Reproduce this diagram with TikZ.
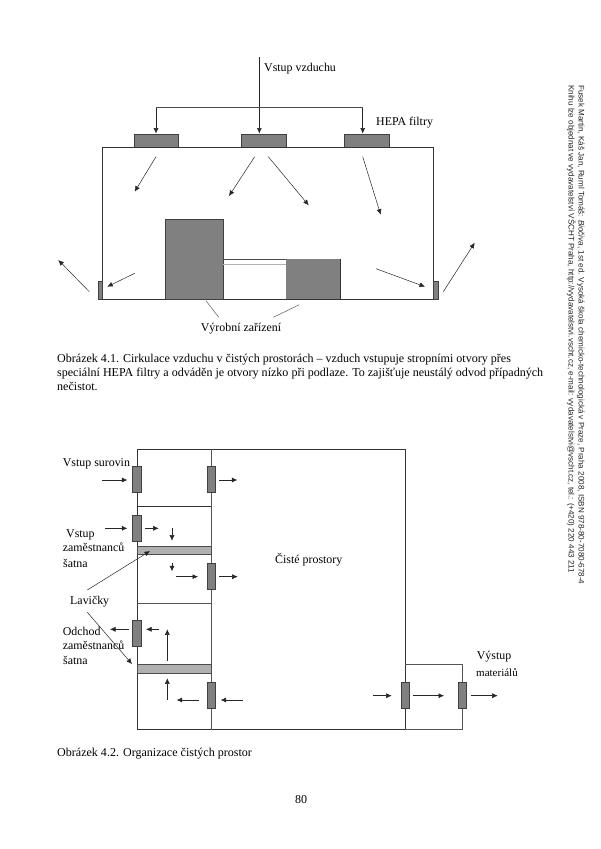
\documentclass[tikz,border=0pt]{standalone}
\usepackage{fontspec}
\setmainfont{Liberation Serif}
\newfontfamily\sidefont{Liberation Sans}
\usetikzlibrary{arrows.meta}
\definecolor{fillgray}{HTML}{808080}
\definecolor{benchgray}{HTML}{B0B0B0}
\definecolor{wallgray}{HTML}{555555}
\tikzset{
  x=1pt,y=-1pt,
  wall/.style={draw=black!80,line width=0.8pt},
  thin wall/.style={draw=wallgray,line width=0.6pt},
  solidbox/.style={draw=black!75,line width=0.6pt,fill=fillgray},
  bench/.style={draw=black!70,line width=0.5pt,fill=benchgray},
  flow/.style={draw=black!85,line width=0.5pt,-{Latex[length=5.5pt,width=5pt]}},
  leader/.style={draw=black!70,line width=0.45pt},
  lab/.style={anchor=base west,inner sep=0pt,font=\fontsize{11.9}{13}\selectfont,text=black},
  captext/.style={anchor=base west,inner sep=0pt,font=\fontsize{12.04}{14}\selectfont,text=black},
  side/.style={anchor=base west,inner sep=0pt,rotate=-90,font=\sidefont\fontsize{8.08}{9}\selectfont,text=black!85},
}
\begin{document}
\begin{tikzpicture}
\useasboundingbox (0,0) rectangle (600,849);
\fill[white] (0,0) rectangle (600,849);
% --- Figure 4.1 ---
\coordinate (inTop) at (259.3,57);
\coordinate (busL) at (156,107.5);
\coordinate (busR) at (362.7,107.5);
\node[solidbox,minimum width=44.4pt,minimum height=13.2pt,inner sep=0pt] (f1) at (156.5,140.9) {};
\node[solidbox,minimum width=45pt,minimum height=13.2pt,inner sep=0pt] (f2) at (263.5,140.9) {};
\node[solidbox,minimum width=44.6pt,minimum height=13.2pt,inner sep=0pt] (f3) at (367,140.9) {};
\draw[wall] (102.3,299.3) -- (102.3,147.5) -- (433.7,147.5) -- (433.7,299.3) -- cycle;
\draw[solidbox] (165.7,219.3) rectangle (223,299.3);
\draw[leader] (223,259.3) -- (286,259.3);
\draw[draw=black!30,line width=0.9pt] (223,264) -- (286,264);
\fill[fillgray] (286,259.3) rectangle (340,299.3);
\draw[black!80,line width=0.6pt] (340,259.3) -- (340,299.3);
\draw[solidbox] (98.3,281.7) rectangle (102.3,299.3);
\draw[solidbox] (433.7,281.7) rectangle (438.7,299.3);
\draw[flow] (inTop) -- (259.3,133.5);
\draw[leader] (busL) -- (busR);
\draw[flow] (busL) -- (156,133.5);
\draw[flow] (busR) -- (362.7,133.5);
\draw[flow] (156,156.7) -- (134.7,191.7);
\draw[flow] (254.7,156.7) -- (229,196);
\draw[flow] (268.3,156.7) -- (308.7,205.3);
\draw[flow] (362.7,156.7) -- (380.7,214.7);
\draw[flow] (134.7,273.3) -- (107.3,286.7);
\draw[flow] (376,268.7) -- (425,286.7);
\draw[flow] (89.3,291.7) -- (58.3,260);
\draw[flow] (443.3,291.7) -- (474.7,242.7);
\draw[leader] (206,300.7) -- (218.7,317.3);
\draw[leader] (273.3,317.3) -- (299.3,304.7);
\node[lab] (t1) at (264,71) {Vstup vzduchu};
\node[lab] (t2) at (376,125) {HEPA filtry};
\node[lab] (t3) at (200.7,331) {Výrobní zařízení};
\node[captext] (c1) at (57,362.5) {Obrázek 4.1. Cirkulace vzduchu v čistých prostorách – vzduch vstupuje stropními otvory přes};
\node[captext] (c2) at (57,376.5) {speciální HEPA filtry a odváděn je otvory nízko při podlaze. To zajišťuje neustálý odvod případných};
\node[captext] (c3) at (57,390) {nečistot.};
% --- Figure 4.2 ---
\draw[wall] (137,449.3) -- (405,449.3) -- (405,729.5) -- (137,729.5) -- cycle;
\draw[thin wall] (211.3,449.3) -- (211.3,729.5);
\draw[wall] (137,506) -- (211.3,506);
\draw[thin wall] (137,603.3) -- (211.3,603.3);
\draw[thin wall] (405,664) -- (462.3,664) -- (462.3,729.5) -- (405,729.5);
\draw[bench] (137,546) rectangle (211.3,554.7);
\draw[bench] (137,664.7) rectangle (211.3,673.3);
\foreach \xa/\xb/\ya/\yb in {132.7/141/466.7/492.3, 207.3/215.7/466.7/492.3, 132.7/141/515.3/541.3, 207.3/215.7/563.3/589.3, 132.7/141/620.3/646.7, 207.3/215.7/682.3/708.7, 401/409/682.3/708.7, 458.7/466.7/682.3/708.7}
  \draw[solidbox] (\xa,\ya) rectangle (\xb,\yb);
\foreach \xa/\ya/\xb/\yb in {101.7/480/127.3/480, 219.3/480/237.3/480, 105.3/528.3/127.3/528.3, 145/528.3/158.7/528.3, 172/528/172/540.7, 172/563.3/172/571.3, 176/576.7/198/576.7, 219.3/576.7/237.7/576.7, 128.7/629.3/110/629.3, 159.3/629.3/146/629.3, 167.3/660.7/167.3/629.3, 167.3/700/167.3/678.3, 199/700/176.7/700, 242.7/700/220.7/700, 373/695.7/391.7/695.7, 413.3/695.7/444/695.7, 471/695.7/497.7/695.7, 87.3/590/150/551, 87.3/612.3/132/664}
  \draw[flow] (\xa,\ya) -- (\xb,\yb);
\node[lab] (l1) at (62.7,466.5) {Vstup surovin};
\node[lab] (l2) at (66,537.5) {Vstup};
\node[lab] (l3) at (62.7,551.5) {zaměstnanců};
\node[lab] (l4) at (63,567.5) {šatna};
\node[lab] (l5) at (70,604) {Lavičky};
\node[lab] (l6) at (62.7,635.5) {Odchod};
\node[lab] (l7) at (62.7,649.5) {zaměstnanců};
\node[lab] (l8) at (63,664.5) {šatna};
\node[lab] (l9) at (275,563.5) {Čisté prostory};
\node[lab] (l10) at (476.7,659.5) {Výstup};
\node[lab,font=\fontsize{11}{13}\selectfont] (l11) at (476,676) {materiálů};
\node[captext] (c4) at (57,756.5) {Obrázek 4.2. Organizace čistých prostor};
\node[captext] (pg) at (295,803) {80};
% --- side note ---
\node[side] (s1) at (578.5,85) {Fusek Martin, Káš Jan, Ruml Tomáš: \textit{Biočiva}, 1st ed. Vysoká škola chemicko-technologická v Praze, Praha 2008, ISBN 978-80-7080-678-4};
\node[side] (s2) at (568.5,85) {Knihu lze objednat ve vydavatelství VŠCHT Praha, http://vydavatelstvi.vscht.cz, e-mail: vydavatelstvi@vscht.cz, tel.: (+420) 220 443 211};
\end{tikzpicture}
\end{document}
